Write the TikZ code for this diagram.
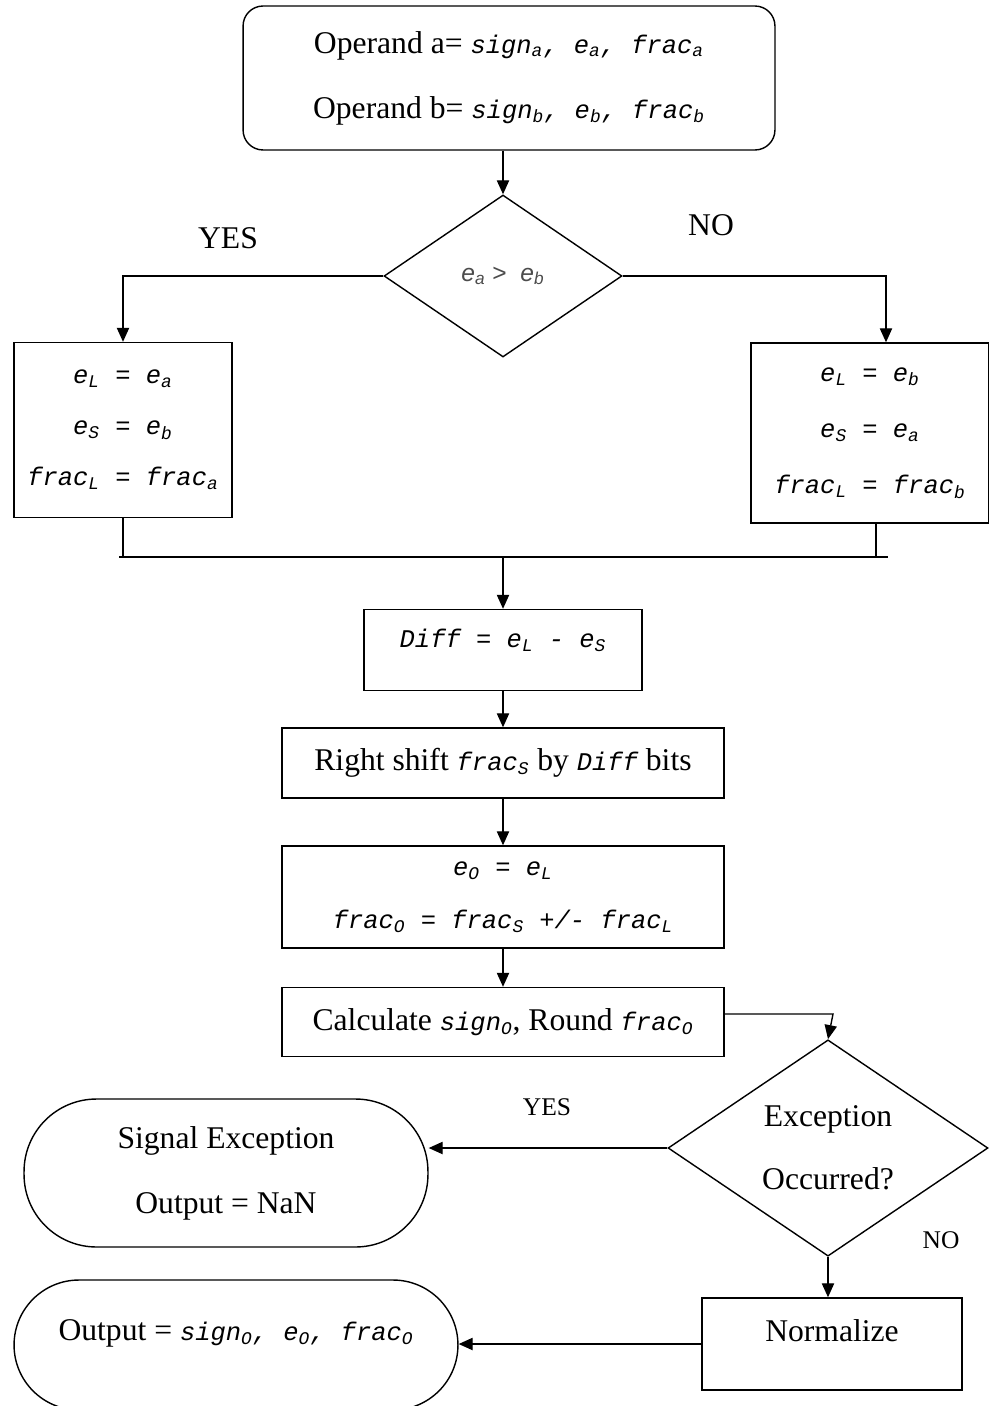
\documentclass[tikz,border=0pt]{standalone}
\usepackage{fontspec}
\setmainfont{Liberation Serif}
\setsansfont{Liberation Sans}
\setmonofont{Liberation Mono}
\usepackage{tikz}
\usetikzlibrary{shapes.geometric,arrows.meta}

\newcommand{\mono}{\fontsize{14.5}{17}\selectfont\ttfamily\itshape}

\begin{document}
\begin{tikzpicture}[x=0.02cm,y=-0.02cm,
	font=\fontsize{18}{22}\selectfont,
	box/.style={shape=rectangle,draw=black,thick,align=center},
	term/.style={shape=rectangle,draw=black,thick,align=center},
	decide/.style={shape=diamond,draw=black,thick,align=center,inner sep=0pt},
	flow/.style={-{Triangle[length=8pt,width=7pt]},thick}]
	
	\useasboundingbox (0,0) rectangle (989,1406);
	
	% operands
	\node[term,rounded corners=0.4cm,minimum width=10.64cm,minimum height=2.88cm] (ops) at (509,78) {Operand a= {\mono sign\textsubscript{a}, e\textsubscript{a}, frac\textsubscript{a}}\\[15pt] Operand b= {\mono sign\textsubscript{b}, e\textsubscript{b}, frac\textsubscript{b}}};
	
	% compare exponents
	\node[decide,minimum width=4.76cm,minimum height=3.24cm,font=\fontsize{14}{17}\selectfont\sffamily\itshape,text=black!70] (cmp) at (503,276) {e\textsubscript{a} {\upshape >}\ \ e\textsubscript{b}};
	\node (yes1) at (228,238) {YES};
	\node (no1) at (711,225) {NO};
	
	\node[box,minimum width=4.36cm,minimum height=3.5cm,font=\mono] (casea) at (123,430) {e\textsubscript{L} = e\textsubscript{a}\\[12pt] e\textsubscript{S} = e\textsubscript{b}\\[12pt] frac\textsubscript{L} = frac\textsubscript{a}};
	\node[box,minimum width=4.76cm,minimum height=3.6cm,font=\mono] (caseb) at (870,433) {e\textsubscript{L} = e\textsubscript{b}\\[15pt] e\textsubscript{S} = e\textsubscript{a}\\[15pt] frac\textsubscript{L} = frac\textsubscript{b}};
	
	\coordinate (mergeL) at (119,557);
	\coordinate (mergeR) at (888,557);
	
	% alignment
	\node[box,minimum width=5.56cm,minimum height=1.62cm,text depth=0.45cm,font=\mono] (diff) at (503,650) {Diff = e\textsubscript{L} - e\textsubscript{S}};
	\node[box,minimum width=8.84cm,minimum height=1.4cm] (shift) at (503,763) {Right shift {\mono frac\textsubscript{S}} by {\mono Diff} bits};
	\node[box,minimum width=8.84cm,minimum height=2.04cm,font=\mono] (expo) at (503,897) {e\textsubscript{O} = e\textsubscript{L}\\[13pt] frac\textsubscript{O} = frac\textsubscript{S} +/- frac\textsubscript{L}};
	\node[box,minimum width=8.84cm,minimum height=1.38cm] (calc) at (503,1022) {Calculate {\mono sign\textsubscript{O}}, Round {\mono frac\textsubscript{O}}};
	
	% exception check
	\node[decide,minimum width=6.4cm,minimum height=4.32cm] (exc) at (828,1148) {Exception\\[14pt] Occurred?};
	\node[font=\fontsize{14.5}{17}\selectfont] (yes2) at (547,1107) {YES};
	\node[font=\fontsize{14.5}{17}\selectfont] (no2) at (941,1240) {NO};
	
	\node[term,rounded corners=1.45cm,minimum width=8.08cm,minimum height=2.96cm] (signal) at (226,1173) {Signal Exception\\[15pt] Output = NaN};
	\node[box,minimum width=5.2cm,minimum height=1.84cm,text depth=0.55cm] (norm) at (832,1344) {Normalize};
	\node[term,rounded corners=1.3cm,minimum width=8.88cm,minimum height=2.6cm,text depth=0.6cm] (out) at (236,1345) {Output = {\mono sign\textsubscript{O}, e\textsubscript{O}, frac\textsubscript{O}}};
	
	\coordinate (bend) at (833,1014);
	
	\draw[flow] (ops.south -| cmp.north) -- (cmp.north);
	\draw[flow] (cmp.west) -| (casea.north);
	\draw[flow] (cmp.east) -| ([xshift=0.32cm]caseb.north);
	\draw[thick] (casea.south) -- (casea.south |- mergeL);
	\draw[thick] ([xshift=0.12cm]caseb.south) -- ([xshift=0.12cm]caseb.south |- mergeR);
	\draw[thick] (mergeL) -- (mergeR);
	\draw[flow] (diff.north |- mergeL) -- (diff.north);
	\draw[flow] (diff.south) -- (shift.north);
	\draw[flow] (shift.south) -- (expo.north);
	\draw[flow] (expo.south) -- (calc.north);
	\draw[flow] (calc.east |- bend) -- (bend) -- (exc.north);
	\draw[flow] (exc.west) -- (exc.west -| signal.east);
	\draw[flow] (exc.south) -- (exc.south |- norm.north);
	\draw[flow] (norm.west) -- (norm.west -| out.east);
	
\end{tikzpicture}
\end{document}
